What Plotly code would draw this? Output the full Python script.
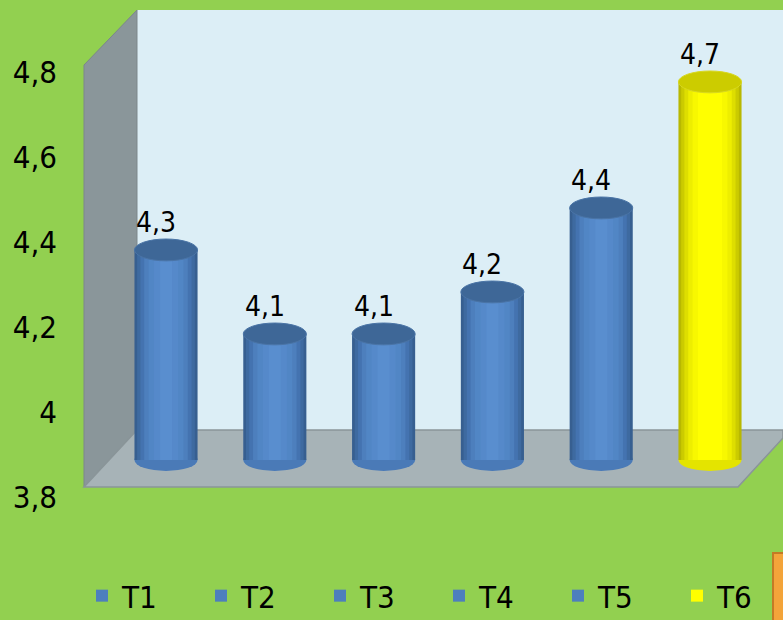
import plotly.graph_objects as go

# ---- data ----
categories = ["T1", "T2", "T3", "T4", "T5", "T6"]
values = [4.3, 4.1, 4.1, 4.2, 4.4, 4.7]
value_labels = ["4,3", "4,1", "4,1", "4,2", "4,4", "4,7"]
tick_values = [3.8, 4.0, 4.2, 4.4, 4.6, 4.8]
tick_labels = ["3,8", "4", "4,2", "4,4", "4,6", "4,8"]
axis_base = 3.8

W, H = 783, 620
FONT = "DejaVu Sans Condensed, Liberation Sans Narrow, sans-serif"

blue_shades = ["#375F90", "#3E6AA0", "#4473B0", "#4D7FBD", "#5186C5", "#5589CA", "#598ECF"]
yellow_shades = ["#B8B800", "#CBCB00", "#DEDE00", "#EEEE00", "#F8F800", "#FFFF00", "#FFFF00"]
widths = [0.58, 0.53, 0.47, 0.40, 0.32, 0.22, 0.11]
legend_idx = {"blue": 3, "yellow": 5}

def px(x):
    return x / W

def py(y):
    return 1 - y / H

def path(points):
    return "M " + " L ".join(f"{px(x)},{py(y)}" for x, y in points) + " Z"

fig = go.Figure()

xs = list(range(len(categories)))
for i, (cat, v) in enumerate(zip(categories, values)):
    yellow = cat == "T6"
    shades = yellow_shades if yellow else blue_shades
    li = legend_idx["yellow" if yellow else "blue"]
    for k, (w, c) in enumerate(zip(widths, shades)):
        fig.add_trace(go.Bar(
            x=[xs[i]], y=[v - axis_base], base=axis_base, width=w,
            name=cat, marker=dict(color=c, line=dict(width=0)),
            showlegend=(k == li), hoverinfo="skip",
        ))

# dummy trace for the label axis
fig.add_trace(go.Scatter(x=[0], y=[axis_base], mode="markers", yaxis="y2",
                         marker=dict(opacity=0), showlegend=False, hoverinfo="skip"))

shapes = []
# back wall
shapes.append(dict(type="rect", xref="paper", yref="paper", x0=px(137), x1=px(783),
                   y0=py(430), y1=py(10), fillcolor="#DCEEF6", line=dict(width=0), layer="below"))
# left side wall
shapes.append(dict(type="path", xref="paper", yref="paper",
                   path=path([(84, 65), (137, 10), (137, 430), (84, 487)]),
                   fillcolor="#8A969A", line=dict(color="#7C878B", width=1), layer="below"))
# floor
shapes.append(dict(type="path", xref="paper", yref="paper",
                   path=path([(84, 487), (137, 430), (783, 430), (783, 438), (738, 487)]),
                   fillcolor="#A7B3B7", line=dict(color="#8A9599", width=1.5), layer="below"))
# orange box corner
shapes.append(dict(type="rect", xref="paper", yref="paper", x0=px(773), x1=px(786),
                   y0=py(625), y1=py(553), fillcolor="#F3A43A", line=dict(color="#C47A25", width=2)))

EH = 0.026  # ellipse half height in value units
for i, (cat, v) in enumerate(zip(categories, values)):
    yellow = cat == "T6"
    hw = widths[0] / 2
    # bottom ellipse
    shapes.append(dict(type="circle", xref="x", yref="y", x0=xs[i] - hw, x1=xs[i] + hw,
                       y0=axis_base - EH, y1=axis_base + EH,
                       fillcolor="#E4E400" if yellow else "#4A7AB7", line=dict(width=0), layer="below"))
    # top ellipse
    shapes.append(dict(type="circle", xref="x", yref="y", x0=xs[i] - hw, x1=xs[i] + hw,
                       y0=v - EH, y1=v + EH,
                       fillcolor="#CCCC00" if yellow else "#3E6797",
                       line=dict(color="#D8D820" if yellow else "#4A74A6", width=1), layer="above"))

annotations = []
for i, (v, lab) in enumerate(zip(values, value_labels)):
    annotations.append(dict(x=xs[i], y=v, xref="x", yref="y", text=lab, showarrow=False,
                            yanchor="middle", xanchor="center", yshift=27, xshift=-10,
                            font=dict(family=FONT, size=28, color="black")))

fig.update_layout(
    width=W, height=H,
    margin=dict(l=0, r=0, t=0, b=0, autoexpand=False),
    paper_bgcolor="#92D050", plot_bgcolor="rgba(0,0,0,0)",
    barmode="overlay",
    shapes=shapes, annotations=annotations,
    xaxis=dict(range=[-1.526, 5.671], visible=False, domain=[0, 1]),
    yaxis=dict(range=[3.419, 4.895], visible=False, domain=[0, 1]),
    yaxis2=dict(range=[3.5106, 4.9694], overlaying="y", anchor="free", position=px(57),
                side="left", tickvals=tick_values, ticktext=tick_labels,
                showgrid=False, zeroline=False, showline=False, ticks="",
                tickfont=dict(family=FONT, size=31, color="black")),
    legend=dict(orientation="h", x=px(82), xanchor="left", y=py(569), yanchor="top",
                entrywidth=74, entrywidthmode="pixels", bgcolor="rgba(0,0,0,0)",
                itemwidth=30,
                font=dict(family=FONT, size=31, color="black"), traceorder="normal"),
    showlegend=True,
)

fig.write_html("out.html")
